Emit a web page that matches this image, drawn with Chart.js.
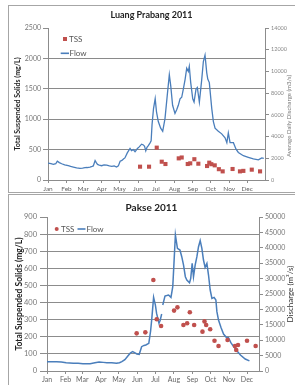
<!DOCTYPE html>
<html>
<head>
<meta charset="utf-8">
<script src="https://cdn.jsdelivr.net/npm/chart.js@4.4.1/dist/chart.umd.min.js"></script>
<style>
  html, body { margin: 0; padding: 0; background: #fff; width: 295px; height: 385px; overflow: hidden; position: relative; }
  .box { position: absolute; border: 1px solid #a6a6a6; box-sizing: border-box; }
  canvas { position: absolute; }
</style>
</head>
<body>
<div class="box" style="left:8px;top:5px;width:300px;height:188px"></div>
<div class="box" style="left:8px;top:194px;width:300px;height:200px"></div>
<canvas id="lpChart" width="287" height="187" style="left:8px;top:5px"></canvas>
<canvas id="pkChart" width="287" height="190" style="left:8px;top:195px"></canvas>
<script>
const months = ["Jan", "Feb", "Mar", "Apr", "May", "Jun", "Jul", "Aug", "Sep", "Oct", "Nov", "Dec"];
const monthStarts = [0, 31, 59, 90, 120, 151, 181, 212, 243, 273, 304, 334];

// ---- Luang Prabang 2011 (day of year) ----
const lpFlowDays = [0, 5, 9, 13, 15.6, 19, 23, 28, 34, 38, 42.5, 48, 53.7, 58, 62, 66, 70.5, 74, 76, 79, 81, 83, 86, 90,
  94, 98.5, 103, 107, 111, 115, 118, 121, 124, 127, 129, 133, 137.6, 140, 143, 146, 150, 153, 157, 160, 162, 164, 166,
  168, 171, 173, 174.5, 177, 179.8, 182, 185, 189, 192.4, 196.3, 200, 203.5, 205.9, 209, 213, 216, 218.6, 221.5, 224.3,
  227, 230, 232.7, 235.4, 237, 239.4, 242.8, 245, 248.3, 250.5, 253.9, 257.9, 260.6, 263.4, 266.3, 268, 270.6, 274.7,
  277.4, 280.2, 285.7, 291.4, 297, 300, 302.5, 305.4, 311, 315.4, 319.3, 327.7, 336, 344.5, 352.9, 358.6, 362];
const lpFlow = [1555, 1500, 1435, 1500, 1735, 1600, 1495, 1400, 1315, 1250, 1196, 1120, 1076, 1100, 1136, 1150, 1196, 1256,
  1300, 1794, 1600, 1435, 1380, 1315, 1400, 1375, 1300, 1256, 1300, 1196, 1300, 1735, 1800, 1950, 2033, 2500, 2900, 2700,
  2800, 2600, 2900, 3050, 3300, 3230, 3100, 2690, 3000, 3140, 3400, 3600, 5080, 6580, 7500, 6280, 5380, 4780, 4490, 5680,
  7770, 9700, 8670, 6880, 6130, 6500, 6880, 7475, 7620, 8370, 9270, 10300, 10000, 10460, 8970, 7475, 7180, 8370, 8520,
  7180, 9270, 10910, 11500, 9870, 9300, 8970, 6580, 5380, 4780, 4490, 4250, 3890, 3440, 4340, 3440, 3440, 2840, 2540,
  2240, 2090, 1940, 1850, 2030, 2000];
const lpTssDays = [154.4, 169.5, 182.4, 190.8, 197, 219.3, 224.3, 234.4, 238.6, 245.5, 252.2, 266.8, 270.5, 274, 279.7,
  286.6, 293, 309.6, 322, 327.7, 341.8, 355.7];
const lpTss = [219, 219, 532, 301, 263, 356, 370, 263, 274, 342, 268, 230, 285, 260, 241, 178, 142, 181, 142, 150, 170, 142];

// ---- Pakse 2011 ----
const pkFlowDays = [0, 8, 16, 24, 32, 44, 52, 60, 72, 80, 87, 94, 100, 108, 116, 121, 125, 130, 135, 139, 143, 147, 150,
  154, 158, 162, 165, 170, 173, 175, 178, 181, 183, 187, 189, 191.5, 192.4, 193.3, 197, 200, 203, 207, 210, 212, 214.4,
  217.8, 222, 225, 228, 231, 233.5, 238, 240, 242.4, 244.6, 247.4, 250.3, 253, 255.8, 258.6, 261.3, 264, 267, 269.7,
  272.5, 275.4, 279, 282, 283.7, 286.4, 290.4, 294.8, 299.3, 303, 307, 311.6, 317, 323, 331, 338];
const pkFlow = [3030, 3000, 3030, 2900, 2700, 2490, 2500, 2380, 2380, 2700, 2920, 2800, 2700, 2650, 2490, 2700, 3030,
  3700, 4900, 5800, 6280, 5900, 5520, 5410, 7900, 8300, 8440, 9000, 13000, 17000, 23900, 21400, 18700, 15500, 16500,
  18500, null, 21420, 24350, 24500, 24670, 23900, 27370, 34950, 44150, 39820, 39280, 37110, 34400, 30620, 29540, 28670,
  30080, 34950, 30620, 34400, 37110, 40360, 42310, 39820, 36030, 33650, 34950, 31160, 26290, 23590, 23910, 23050, 19260,
  16550, 14170, 12010, 10930, 10820, 9200, 7900, 6600, 5190, 3900, 3300];
const pkTssDays = [149.7, 164.2, 177.6, 183.2, 190.5, 212.2, 217.8, 227.8, 234, 238.5, 245.7, 259.6, 263, 265.8, 272.5,
  279.7, 286.4, 301.5, 313.9, 316, 319, 334, 348.4];
const pkTss = [220, 226, 532, 302, 263, 353, 372, 269, 279, 343, 269, 230, 290, 269, 244, 177, 146, 181, 146, 123, 152, 177, 146];

const RED = "#c0504d";
const BLUE = "#4a7ebb";
const AXIS = "#8c8c8c";
const FONT = "Lato";

function pts(xs, ys) {
  return xs.map((x, i) => ({ x: x, y: ys[i] }));
}

// legend drawn inside the plot area
const areaLegend = {
  id: "areaLegend",
  afterDraw(chart, args, opts) {
    const ctx = chart.ctx;
    const a = chart.chartArea;
    ctx.save();
    ctx.font = opts.font;
    ctx.textBaseline = "middle";
    opts.items.forEach(item => {
      const y = a.top + item.dy;
      if (item.kind === "line") {
        ctx.strokeStyle = BLUE;
        ctx.lineWidth = 1.6;
        ctx.beginPath();
        ctx.moveTo(a.left + item.mx0, y);
        ctx.lineTo(a.left + item.mx1, y);
        ctx.stroke();
      } else if (item.kind === "circle") {
        ctx.fillStyle = RED;
        ctx.beginPath();
        ctx.arc(a.left + item.mx, y, 2, 0, Math.PI * 2);
        ctx.fill();
      } else {
        ctx.fillStyle = RED;
        ctx.fillRect(a.left + item.mx - 2, y - 2, 4, 4);
      }
      ctx.fillStyle = opts.color;
      ctx.fillText(item.text, a.left + item.tx, y);
    });
    ctx.restore();
  }
};

// right axis title, reading bottom to top
const rightTitle = {
  id: "rightTitle",
  afterDraw(chart, args, opts) {
    const ctx = chart.ctx;
    const a = chart.chartArea;
    ctx.save();
    ctx.translate(opts.x, (a.top + a.bottom) / 2 + (opts.dy || 0));
    ctx.rotate(-Math.PI / 2);
    ctx.font = opts.font;
    ctx.fillStyle = opts.color;
    ctx.textAlign = "center";
    ctx.textBaseline = "middle";
    ctx.fillText(opts.text, 0, 0);
    ctx.restore();
  }
};

const plain = v => String(v);

function xAxis(max, height, fontSize) {
  return {
    type: "linear",
    min: 0,
    max: max,
    afterBuildTicks: s => { s.ticks = monthStarts.map(v => ({ value: v })); },
    afterFit: s => { s.height = height; },
    grid: { drawOnChartArea: false, tickLength: 3, color: AXIS },
    border: { color: AXIS },
    ticks: {
      autoSkip: false, maxRotation: 0, padding: 2, color: "#666",
      font: { family: FONT, size: fontSize },
      callback: (v, i) => months[i]
    }
  };
}

// ---------------- LUANG PRABANG ----------------
new Chart(document.getElementById("lpChart"), {
  data: {
    datasets: [
      {
        type: "scatter", label: "TSS", data: pts(lpTssDays, lpTss), yAxisID: "y",
        pointStyle: "rect", pointRadius: 2.9, pointBackgroundColor: RED, pointBorderWidth: 0, order: 1
      },
      {
        type: "line", label: "Flow", data: pts(lpFlowDays, lpFlow), yAxisID: "y2",
        borderColor: BLUE, borderWidth: 1.3, pointRadius: 0, tension: 0, order: 2
      }
    ]
  },
  options: {
    responsive: false,
    animation: false,
    layout: { padding: 0 },
    scales: {
      x: xAxis(364, 12, 6.5),
      y: {
        position: "left", min: 0, max: 2500,
        afterFit: s => { s.width = 40; },
        grid: { color: c => (c.tick && c.tick.value === 2500 ? "rgba(0,0,0,0)" : "#8a8a8a"), tickColor: AXIS, tickLength: 5 },
        border: { color: AXIS },
        title: {
          display: true, text: "Total Suspended Solids (mg/L)", color: "#222",
          font: { family: FONT, size: 7, weight: "bold" }, padding: { top: 6, bottom: 0 }
        },
        ticks: { stepSize: 500, padding: 2, color: "#777", font: { family: FONT, size: 7 }, callback: plain }
      },
      y2: {
        position: "right", min: 0, max: 14000,
        afterFit: s => { s.width = 30; },
        grid: { drawOnChartArea: false, tickLength: 4, color: AXIS },
        border: { color: AXIS },
        ticks: { stepSize: 2000, padding: 2, color: "#888", font: { family: FONT, size: 5.5 }, callback: plain }
      }
    },
    plugins: {
      legend: { display: false },
      tooltip: { enabled: false },
      title: {
        display: true, text: "Luang Prabang 2011", color: "#222",
        font: { family: FONT, size: 9, weight: "bold" }, padding: { top: 4.6, bottom: 7.6 }
      },
      areaLegend: {
        font: "8px Lato", color: "#555",
        items: [
          { kind: "rect", mx: 17, tx: 21, dy: 11, text: "TSS" },
          { kind: "line", mx0: 12.7, mx1: 21, tx: 21.5, dy: 25.3, text: "Flow" }
        ]
      },
      rightTitle: { x: 281, font: "6px Lato", color: "#777", text: "Average Daily Discharge (m3/s)", dy: 12 }
    }
  },
  plugins: [areaLegend, rightTitle]
});

// ---------------- PAKSE ----------------
new Chart(document.getElementById("pkChart"), {
  data: {
    datasets: [
      {
        type: "scatter", label: "TSS", data: pts(pkTssDays, pkTss), yAxisID: "y",
        pointStyle: "circle", pointRadius: 2.3, pointBackgroundColor: RED, pointBorderWidth: 0, order: 1
      },
      {
        type: "line", label: "Flow", data: pts(pkFlowDays, pkFlow), yAxisID: "y2",
        borderColor: BLUE, borderWidth: 1.5, pointRadius: 0, tension: 0, spanGaps: false, order: 2
      }
    ]
  },
  options: {
    responsive: false,
    animation: false,
    layout: { padding: 0 },
    scales: {
      x: xAxis(354, 14, 7),
      y: {
        position: "left", min: 0, max: 900,
        afterFit: s => { s.width = 39; },
        grid: { color: c => (c.tick && c.tick.value === 900 ? "rgba(0,0,0,0)" : "#8c8c8c"), tickColor: AXIS, tickLength: 7 },
        border: { color: AXIS },
        title: {
          display: true, text: "Total Suspended Solids (mg/L)", color: "#222",
          font: { family: FONT, size: 8.5, weight: "bold" }, padding: { top: 6, bottom: 0 }
        },
        ticks: { stepSize: 100, padding: 3, color: "#777", font: { family: FONT, size: 7.5 }, callback: plain }
      },
      y2: {
        position: "right", min: 0, max: 50000,
        afterFit: s => { s.width = 36; },
        grid: { drawOnChartArea: false, tickLength: 4, color: AXIS },
        border: { color: AXIS },
        ticks: { stepSize: 5000, padding: 2, color: "#777", font: { family: FONT, size: 7 }, callback: plain }
      }
    },
    plugins: {
      legend: { display: false },
      tooltip: { enabled: false },
      title: {
        display: true, text: "Pakse 2011", color: "#222",
        font: { family: FONT, size: 10, weight: "bold" }, padding: { top: 7, bottom: 3 }
      },
      areaLegend: {
        font: "8px Lato", color: "#555",
        items: [
          { kind: "circle", mx: 9.7, tx: 14, dy: 12, text: "TSS" },
          { kind: "line", mx0: 30.5, mx1: 38.5, tx: 39.5, dy: 12, text: "Flow" }
        ]
      },
      rightTitle: { x: 282, font: "8px Lato", color: "#333", text: "Discharge (m³/s)" }
    }
  },
  plugins: [areaLegend, rightTitle]
});
</script>
</body>
</html>
